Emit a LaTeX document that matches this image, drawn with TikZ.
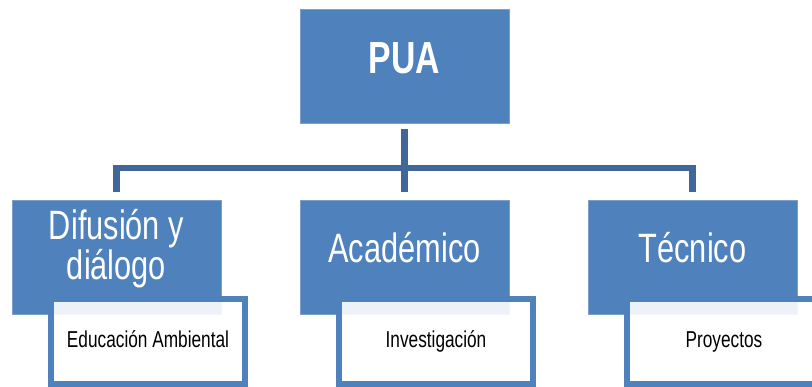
\documentclass[tikz,border=0pt]{standalone}
\usepackage{fontspec}
\newfontfamily\boxfont[FakeStretch=0.75]{Liberation Sans}
\usetikzlibrary{positioning}
\definecolor{boxblue}{RGB}{79,129,189}
\definecolor{linkblue}{RGB}{65,102,153}

\begin{document}
\begin{tikzpicture}[x=1pt, y=1pt,
	head/.style={fill=boxblue, draw=boxblue!75!white, line width=0.8pt, minimum width=209pt, minimum height=114pt, inner sep=0pt, outer sep=0pt, text=white, font=\boxfont\bfseries\fontsize{45}{45}\selectfont, text height=31pt, text depth=17pt},
	area/.style={fill=boxblue, draw=boxblue!75!white, line width=0.8pt, minimum width=209pt, minimum height=114pt, inner sep=0pt, outer sep=0pt, text=white, align=center, font=\boxfont\fontsize{41}{38}\selectfont, text height=28pt, text depth=18pt},
	task/.style={fill=white, fill opacity=0.9, text opacity=1, draw=boxblue, line width=6pt, minimum width=194pt, minimum height=85pt, inner sep=0pt, outer sep=0pt, anchor=north west, text=black, font=\boxfont\fontsize{23}{23}\selectfont, text height=16pt, text depth=4pt},
	link/.style={draw=linkblue, line width=6.5pt}
]
\path[use as bounding box, clip] (0,0) rectangle (812,-386);

\node[head] (pua) at (404.5,-66) {PUA};
\node[area, below=77pt of pua] (academico) {Académico};
\node[area, left=79pt of academico, text height=66pt, text depth=22pt] (difusion) {Difusión y\\diálogo};
\node[area, right=79pt of academico] (tecnico) {Técnico};

\coordinate (bus) at ([yshift=-45pt]pua.south);
\draw[link, shorten <=6pt, shorten >=8pt] (pua) -- (academico);
\draw[link] ([yshift=8pt]difusion.north) |- (bus) -| ([yshift=8pt]tecnico.north);

\node[task] (educacion) at ([shift={(39,15)}]difusion.south west) {Educación Ambiental};
\node[task] (investigacion) at ([shift={(39,15)}]academico.south west) {Investigación};
\node[task] (proyectos) at ([shift={(39,15)}]tecnico.south west) {Proyectos};
\end{tikzpicture}
\end{document}
